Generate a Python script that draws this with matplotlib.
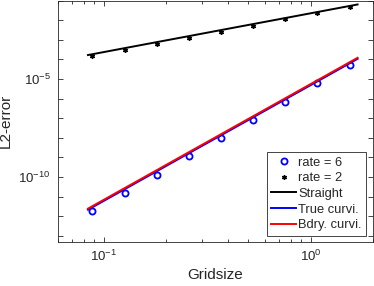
import matplotlib
matplotlib.use('Agg')
import matplotlib.pyplot as plt
from matplotlib.ticker import FixedLocator, NullFormatter

plt.rcParams['font.family'] = ['Liberation Sans', 'DejaVu Sans']
plt.rcParams['mathtext.default'] = 'regular'

# grid sizes of the reference (marker) points
h_ref = [0.0882, 0.1263, 0.1803, 0.2574, 0.3695, 0.5264, 0.7546, 1.0774, 1.543]
rate6 = [1.78e-12, 1.53e-11, 1.31e-10, 1.14e-9, 9.8e-9, 8.1e-8, 6.95e-7, 6.04e-6, 5.18e-5]
rate2 = [1.49e-4, 3.02e-4, 6.3e-4, 1.28e-3, 2.59e-3, 5.25e-3, 1.11e-2, 2.25e-2, 4.71e-2]

# grid sizes of the computed errors (lines)
h = [0.084, 0.1222, 0.1778, 0.2587, 0.3764, 0.5477, 0.797, 1.16, 1.687]
err_straight = [1.67e-4, 3.52e-4, 7.40e-4, 1.55e-3, 3.27e-3, 6.86e-3, 1.44e-2, 3.03e-2, 6.37e-2]
err_true = [2.13e-12, 1.95e-11, 1.79e-10, 1.65e-9, 1.5e-8, 1.38e-7, 1.27e-6, 1.16e-5, 1.07e-4]
err_bdry = [2.42e-12, 2.22e-11, 2.03e-10, 1.87e-9, 1.71e-8, 1.57e-7, 1.44e-6, 1.32e-5, 1.21e-4]

grey = (0.15, 0.15, 0.15)

fig = plt.figure(figsize=(3.74, 2.86), dpi=100)
ax = fig.add_axes([0.1543, 0.1538, 0.8427, 0.844])

ax.loglog(h_ref, rate6, 'o', color='blue', mfc='none', ms=4.4, mew=1.3, label='rate = 6')
ax.loglog(h_ref, rate2, marker=(6, 2, 0), ls='none', color='black', ms=3.3, mew=1.0, label='rate = 2')
ax.loglog(h, err_straight, '-', color='black', lw=1.4, label='Straight')
ax.loglog(h, err_true, '-', color='blue', lw=1.4, label='True curvi.')
ax.loglog(h, err_bdry, '-', color='red', lw=1.4, label='Bdry. curvi.')

ax.set_xlim(0.06, 2)
ax.set_ylim(4.8e-14, 1e-1)

ax.xaxis.set_major_locator(FixedLocator([0.1, 1]))
ax.set_xticklabels([r'$10^{-1}$', r'$10^{0}$'])
ax.xaxis.set_minor_locator(FixedLocator([0.06, 0.07, 0.08, 0.09, 0.2, 0.3, 0.4, 0.5,
                                         0.6, 0.7, 0.8, 0.9, 2]))
ax.xaxis.set_minor_formatter(NullFormatter())

ax.yaxis.set_major_locator(FixedLocator([1e-10, 1e-5]))
ax.set_yticklabels([r'$10^{-10}$', r'$10^{-5}$'])
ax.yaxis.set_minor_locator(FixedLocator([10.0 ** k for k in range(-13, 0)]))
ax.yaxis.set_minor_formatter(NullFormatter())

ax.tick_params(which='both', direction='in', top=True, right=True, colors=grey,
               labelsize=9.5, width=0.6)
ax.tick_params(which='major', length=3.5, pad=5)
ax.tick_params(axis='x', which='minor', length=2)
ax.tick_params(axis='y', which='minor', length=3.5)
for s in ax.spines.values():
    s.set_color(grey)
    s.set_linewidth(0.6)

ax.set_xlabel('Gridsize', fontsize=11, color=grey, labelpad=3)
ax.set_ylabel('L2-error', fontsize=11, color=grey, labelpad=4)

leg = ax.legend(loc='lower right', fontsize=9.3, handlelength=1.95, handletextpad=0.15,
                labelspacing=0.27, borderpad=0.35, borderaxespad=0.5, fancybox=False,
                framealpha=1, edgecolor=grey)
leg.get_frame().set_linewidth(0.6)
for t in leg.get_texts():
    t.set_color(grey)

fig.savefig('out.png', dpi=100)
